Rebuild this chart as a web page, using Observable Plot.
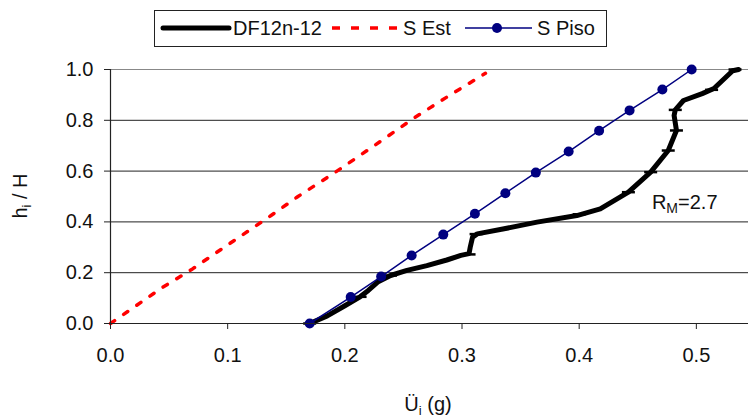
<!DOCTYPE html>
<html>
<head>
<meta charset="utf-8">
<script src="https://cdn.jsdelivr.net/npm/d3@7"></script>
<script src="https://cdn.jsdelivr.net/npm/@observablehq/plot@0.6"></script>
<style>
  html, body { margin: 0; padding: 0; background: #fff; }
  svg { font-family: "Liberation Sans", Arial, sans-serif; }
</style>
</head>
<body>
<div id="chart"></div>
<script>
// ---- data ----
const xTicks = [0, 0.1, 0.2, 0.3, 0.4, 0.5];
const yTicks = [0, 0.2, 0.4, 0.6, 0.8, 1.0];
const gridY = [0.2, 0.4, 0.6, 0.8];

// DF12n-12 (thick black)
const dfX = [0.170, 0.185, 0.200, 0.213, 0.220, 0.228, 0.239, 0.253, 0.270, 0.287, 0.299, 0.306, 0.307, 0.309, 0.313, 0.336, 0.364, 0.398, 0.418, 0.442, 0.461, 0.476, 0.483, 0.481, 0.482, 0.489, 0.505, 0.515, 0.531, 0.536];
const dfY = [0.000, 0.030, 0.070, 0.105, 0.130, 0.163, 0.189, 0.209, 0.228, 0.250, 0.268, 0.275, 0.300, 0.340, 0.353, 0.373, 0.399, 0.425, 0.451, 0.517, 0.596, 0.681, 0.760, 0.819, 0.841, 0.878, 0.905, 0.925, 0.995, 1.000];
// DF12n-12 level markers (dash)
const dfMarkX = [0.170, 0.213, 0.239, 0.306, 0.312, 0.400, 0.442, 0.461, 0.476, 0.483, 0.482, 0.513, 0.533];
const dfMarkY = [0.000, 0.105, 0.189, 0.272, 0.352, 0.430, 0.517, 0.596, 0.681, 0.760, 0.841, 0.920, 1.000];

// S Est (red dotted)
const estX = [0.000, 0.043, 0.070, 0.097, 0.137, 0.160, 0.192, 0.225, 0.260, 0.290, 0.320];
const estY = [0.000, 0.138, 0.215, 0.300, 0.425, 0.500, 0.596, 0.700, 0.812, 0.900, 0.985];

// S Piso (navy with dots)
const pisoX = [0.170, 0.205, 0.231, 0.257, 0.284, 0.311, 0.337, 0.363, 0.391, 0.417, 0.443, 0.471, 0.496];
const pisoY = [0.000, 0.104, 0.185, 0.268, 0.350, 0.432, 0.513, 0.594, 0.677, 0.759, 0.839, 0.921, 1.000];

const seriesNames = ["DF12n-12", "S Est", "S Piso"];
const annotation = {x: 0.4625, y: 0.478, main: "R", sub: "M", rest: "=2.7"};

// ---- tables ----
const df = dfX.map((x, i) => ({x, y: dfY[i]}));
const dfMarks = dfMarkX.map((x, i) => ({x, y: dfMarkY[i]}));
const est = estX.map((x, i) => ({x, y: estY[i]}));
const piso = pisoX.map((x, i) => ({x, y: pisoY[i]}));

const dash = {
  draw(context, size) {
    const w = Math.sqrt(size / Math.PI);
    context.moveTo(-w, 0);
    context.lineTo(w, 0);
  }
};

const FS = 20;
const INK = "#111";
const plot = Plot.plot({
  width: 750,
  height: 419,
  marginLeft: 110,
  marginRight: 2,
  marginTop: 69,
  marginBottom: 96,
  style: {fontFamily: "Liberation Sans, Arial, sans-serif", fontSize: FS + "px", background: "white", overflow: "visible", color: INK},
  x: {domain: [0, 0.5445]},
  y: {domain: [0, 1]},
  marks: [
    Plot.ruleY(gridY, {stroke: "#222", strokeWidth: 1}),
    Plot.ruleY([1], {stroke: "#888", strokeWidth: 1}),
    Plot.line(est, {x: "x", y: "y", stroke: "#ff0000", strokeWidth: 3.5, strokeDasharray: "5,11"}),
    Plot.line(df, {x: "x", y: "y", stroke: "black", strokeWidth: 5, strokeLinejoin: "round", curve: "linear"}),
    Plot.dot(dfMarks, {x: "x", y: "y", symbol: dash, r: 6.5, stroke: "black", strokeWidth: 2.5, fill: "none"}),
    Plot.line(piso, {x: "x", y: "y", stroke: "#000080", strokeWidth: 1.5}),
    Plot.dot(piso, {x: "x", y: "y", fill: "#000080", r: 5}),
    Plot.ruleX([0], {stroke: "#222", strokeWidth: 1.2}),
    Plot.ruleY([0], {stroke: "#222", strokeWidth: 1.2}),
    Plot.axisX({ticks: xTicks, tickFormat: d3.format(".1f"), tickSize: 6, tickPadding: 18, label: null, fontSize: FS, stroke: "#222"}),
    Plot.axisY({ticks: yTicks, tickFormat: d3.format(".1f"), tickSize: 6, tickPadding: 11, label: null, fontSize: FS, stroke: "#222"})
  ]
});
document.getElementById("chart").appendChild(plot);

const svg = d3.select(plot);
const sx = plot.scale("x"), sy = plot.scale("y");

// Annotation R_M=2.7
const ann = svg.append("text")
  .attr("x", sx.apply(annotation.x)).attr("y", sy.apply(annotation.y) + 7)
  .attr("text-anchor", "start")
  .attr("font-size", FS).attr("fill", INK);
ann.append("tspan").text(annotation.main);
ann.append("tspan").attr("font-size", 14).attr("dy", 4).text(annotation.sub);
ann.append("tspan").attr("dy", -4).text(annotation.rest);

// Axis titles
const xt = svg.append("text").attr("x", 428).attr("y", 411).attr("text-anchor", "middle")
  .attr("font-size", FS).attr("fill", INK);
xt.append("tspan").text("Ü");
xt.append("tspan").attr("font-size", 13).attr("dy", 4).text("i");
xt.append("tspan").attr("dy", -4).text(" (g)");

const yt = svg.append("text").attr("transform", "translate(27,196) rotate(-90)").attr("text-anchor", "middle")
  .attr("font-size", FS).attr("fill", INK);
yt.append("tspan").text("h");
yt.append("tspan").attr("font-size", 13).attr("dy", 4).text("i");
yt.append("tspan").attr("dy", -4).text(" / H");

// Legend
const lg = svg.append("g").attr("text-anchor", "start");
lg.append("rect").attr("x", 154.5).attr("y", 10.5).attr("width", 452).attr("height", 36)
  .attr("fill", "white").attr("stroke", "#222").attr("stroke-width", 1);
const ly = 28;
lg.append("line").attr("x1", 163).attr("x2", 229).attr("y1", ly).attr("y2", ly)
  .attr("stroke", "black").attr("stroke-width", 5).attr("stroke-linecap", "round");
lg.append("text").attr("x", 233).attr("y", ly + 7).attr("font-size", FS).attr("fill", INK).text(seriesNames[0]);
lg.append("line").attr("x1", 332).attr("x2", 397).attr("y1", ly).attr("y2", ly)
  .attr("stroke", "#ff0000").attr("stroke-width", 3.5).attr("stroke-dasharray", "8,11");
lg.append("text").attr("x", 403).attr("y", ly + 7).attr("font-size", FS).attr("fill", INK).text(seriesNames[1]);
lg.append("line").attr("x1", 465).attr("x2", 532).attr("y1", ly).attr("y2", ly)
  .attr("stroke", "#000080").attr("stroke-width", 1.5);
lg.append("circle").attr("cx", 497).attr("cy", ly).attr("r", 5).attr("fill", "#000080");
lg.append("text").attr("x", 537).attr("y", ly + 7).attr("font-size", FS).attr("fill", INK).text(seriesNames[2]);
</script>
</body>
</html>
